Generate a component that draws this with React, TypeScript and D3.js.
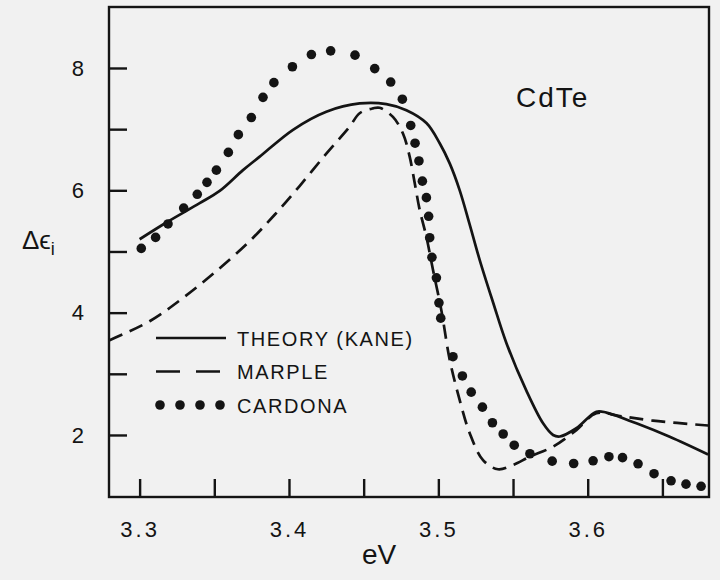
import * as d3 from "d3";
import { useEffect, useRef } from "react";

// Theory (Kane), solid curve: [eV, Δεi]
const theory: [number, number][] = [
    [3.3, 5.2], [3.319, 5.49], [3.3402, 5.79], [3.3536, 5.99], [3.3692, 6.33],
    [3.3804, 6.55], [3.4027, 6.99], [3.425, 7.285], [3.4473, 7.42], [3.4652, 7.41],
    [3.4786, 7.31], [3.492, 7.1], [3.5009, 6.77], [3.5076, 6.44], [3.5143, 6.0],
    [3.521, 5.44], [3.5277, 4.86], [3.5366, 4.17], [3.5456, 3.5], [3.559, 2.72],
    [3.5701, 2.19], [3.5768, 2.0], [3.5813, 1.975], [3.5924, 2.11], [3.6058, 2.38],
    [3.6125, 2.365], [3.6326, 2.19], [3.6549, 1.97], [3.6806, 1.68],
];

// Marple, dashed curve
const marple: [number, number][] = [
    [3.2799, 3.55], [3.3067, 3.86], [3.329, 4.24], [3.3514, 4.68], [3.3737, 5.17],
    [3.3904, 5.6], [3.4071, 6.07], [3.425, 6.6], [3.4406, 7.04], [3.4473, 7.26],
    [3.4562, 7.34], [3.4607, 7.35], [3.4696, 7.2], [3.4763, 6.93], [3.4808, 6.55],
    [3.4842, 6.115], [3.4875, 5.68], [3.492, 5.24], [3.4964, 4.7], [3.502, 4.04],
    [3.5076, 3.23], [3.5143, 2.57], [3.521, 2.03], [3.5299, 1.59], [3.5399, 1.44],
    [3.55, 1.51], [3.5612, 1.645], [3.5768, 1.81], [3.5924, 2.08], [3.6058, 2.355],
    [3.6214, 2.31], [3.6437, 2.234], [3.6806, 2.155],
];

// Cardona, dots
const cardona: [number, number][] = [
    [3.3011, 5.05], [3.3107, 5.23], [3.319, 5.45], [3.3295, 5.71], [3.3386, 5.935],
    [3.3451, 6.13], [3.3514, 6.33], [3.3594, 6.62], [3.3661, 6.91], [3.3748, 7.19],
    [3.3826, 7.52], [3.3899, 7.76], [3.4023, 8.02], [3.415, 8.22], [3.4279, 8.28],
    [3.4442, 8.21], [3.4574, 7.99], [3.4681, 7.77], [3.4759, 7.49], [3.4815, 7.06],
    [3.4844, 6.77], [3.487, 6.48], [3.4893, 6.15], [3.492, 5.88], [3.4935, 5.575],
    [3.4942, 5.225], [3.4957, 4.905], [3.4987, 4.57], [3.5004, 4.16], [3.5016, 3.91],
    [3.5098, 3.28], [3.5161, 2.965], [3.522, 2.7], [3.5295, 2.455], [3.5362, 2.2],
    [3.5434, 2.016], [3.5508, 1.833], [3.5613, 1.693], [3.5762, 1.572], [3.5906, 1.534],
    [3.6036, 1.578], [3.6142, 1.645], [3.6233, 1.629], [3.6337, 1.529], [3.6444, 1.367],
    [3.6558, 1.251], [3.6658, 1.196], [3.6759, 1.161],
];

const xTicks = [3.3, 3.35, 3.4, 3.45, 3.5, 3.55, 3.6, 3.65];
const xLabels = [3.3, 3.4, 3.5, 3.6];
const yTicks = [2, 3, 4, 5, 6, 7, 8];
const yLabels = [2, 4, 6, 8];

const legendItems = ["THEORY (KANE)", "MARPLE", "CARDONA"];

export default function App() {
    const ref = useRef<SVGSVGElement | null>(null);

    useEffect(() => {
        const width = 720;
        const height = 580;
        const ink = "#141414";
        const font = "'Liberation Sans', Arial, sans-serif";
        const frame = { left: 109, right: 709, top: 7, bottom: 497 };

        const svg = d3.select(ref.current);
        svg.selectAll("*").remove();
        svg.attr("width", width).attr("height", height);

        svg.append("rect")
            .attr("width", width)
            .attr("height", height)
            .attr("fill", "#f1f1f1");

        const x = d3.scaleLinear([3.2795, 3.6812], [frame.left, frame.right]);
        const y = d3.scaleLinear([0.986, 8.997], [frame.bottom, frame.top]);

        // frame
        svg.append("rect")
            .attr("x", frame.left)
            .attr("y", frame.top)
            .attr("width", frame.right - frame.left)
            .attr("height", frame.bottom - frame.top)
            .attr("fill", "none")
            .attr("stroke", ink)
            .attr("stroke-width", 2.4);

        // axes, ticks pointing inward
        const xAxis = svg.append("g")
            .attr("transform", `translate(0,${frame.bottom})`)
            .call(
                d3.axisBottom(x)
                    .tickValues(xTicks)
                    .tickSize(-18)
                    .tickPadding(24)
                    .tickFormat((d) => (xLabels.includes(+d) ? d3.format(".1f")(+d) : ""))
            );
        const yAxis = svg.append("g")
            .attr("transform", `translate(${frame.left},0)`)
            .call(
                d3.axisLeft(y)
                    .tickValues(yTicks)
                    .tickSize(-18)
                    .tickPadding(22)
                    .tickFormat((d) => (yLabels.includes(+d) ? String(d) : ""))
            );
        for (const ax of [xAxis, yAxis]) {
            ax.select(".domain").remove();
            ax.selectAll("line").attr("stroke", ink).attr("stroke-width", 2.4);
            ax.selectAll("text")
                .attr("fill", ink)
                .attr("font-family", font)
                .attr("font-size", 22)
                .attr("letter-spacing", 3);
        }

        const line = d3.line()
            .x((d) => x(d[0]))
            .y((d) => y(d[1]))
            .curve(d3.curveCatmullRom.alpha(0.5));

        svg.append("path")
            .datum(theory)
            .attr("d", line)
            .attr("fill", "none")
            .attr("stroke", ink)
            .attr("stroke-width", 2.7);

        svg.append("path")
            .datum(marple)
            .attr("d", line)
            .attr("fill", "none")
            .attr("stroke", ink)
            .attr("stroke-width", 2.7)
            .attr("stroke-dasharray", "14 8");

        svg.append("g")
            .selectAll("circle")
            .data(cardona)
            .join("circle")
            .attr("cx", (d) => x(d[0]))
            .attr("cy", (d) => y(d[1]))
            .attr("r", 4.8)
            .attr("fill", ink);

        // legend
        const legend = svg.append("g").attr("transform", "translate(156,338)");
        legendItems.forEach((name, i) => {
            const g = legend.append("g").attr("transform", `translate(0,${i * 33.5})`);
            if (i === 0) {
                g.append("line").attr("x1", 0).attr("x2", 70)
                    .attr("stroke", ink).attr("stroke-width", 2.7);
            } else if (i === 1) {
                g.append("line").attr("x1", 0).attr("x2", 64)
                    .attr("stroke", ink).attr("stroke-width", 2.7)
                    .attr("stroke-dasharray", "24 16");
            } else {
                g.selectAll("circle")
                    .data([0, 1, 2, 3])
                    .join("circle")
                    .attr("cx", (d) => 4 + d * 20)
                    .attr("cy", 0)
                    .attr("r", 4.8)
                    .attr("fill", ink);
            }
            g.append("text")
                .attr("x", 81)
                .attr("y", 7.5)
                .attr("fill", ink)
                .attr("font-family", font)
                .attr("font-size", 20)
                .attr("letter-spacing", 1.6)
                .text(name);
        });

        svg.append("text")
            .attr("x", 516)
            .attr("y", 107)
            .attr("fill", ink)
            .attr("font-family", font)
            .attr("font-size", 28)
            .attr("letter-spacing", 2)
            .text("CdTe");

        svg.append("text")
            .attr("x", 379)
            .attr("y", 564)
            .attr("text-anchor", "middle")
            .attr("fill", ink)
            .attr("font-family", font)
            .attr("font-size", 28)
            .text("eV");

        const yLabel = svg.append("text")
            .attr("x", 22)
            .attr("y", 249)
            .attr("fill", ink)
            .attr("font-family", font)
            .attr("font-size", 26);
        yLabel.append("tspan").text("Δϵ");
        yLabel.append("tspan").attr("dy", 6).attr("font-size", 18).text("i");
    }, []);

    return (
        <svg
            ref={ref}
            style={{ position: "absolute", left: 0, top: 0, display: "block" }}
        />
    );
}
